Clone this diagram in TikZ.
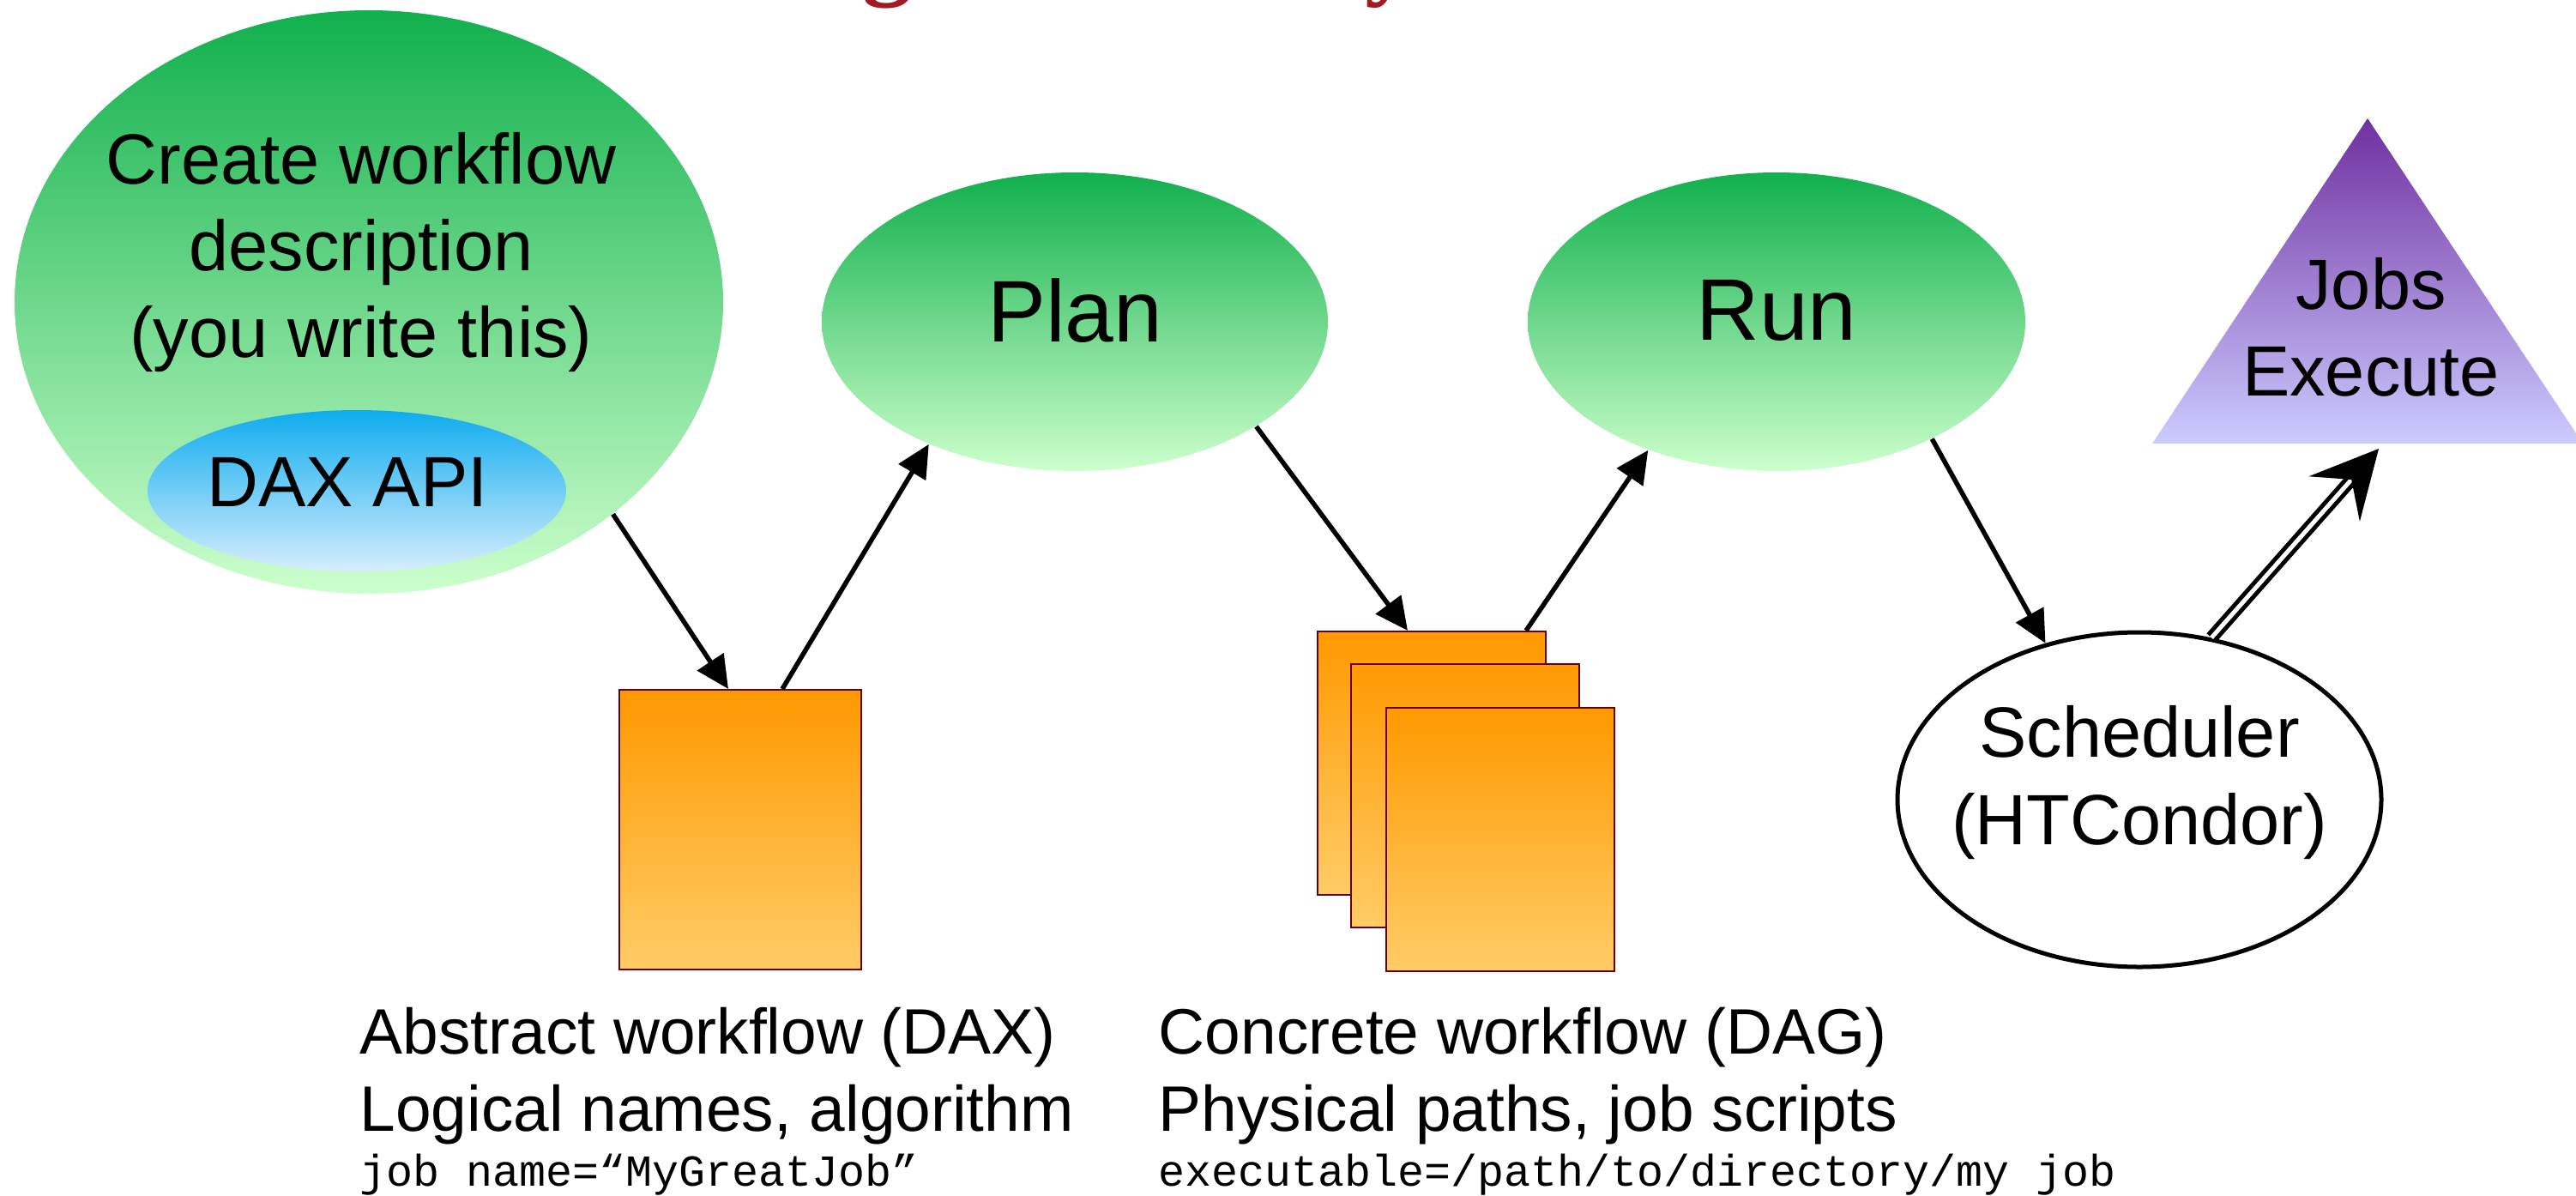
\documentclass[tikz,border=0pt]{standalone}
\usepackage{fontspec}
\setmainfont{Liberation Sans}
\setmonofont{Liberation Mono}
\newfontfamily\headfont{Liberation Serif}
\usetikzlibrary{shapes.geometric,arrows.meta}

\definecolor{leafdark}{RGB}{17,176,77}
\definecolor{leaflight}{RGB}{204,255,204}
\definecolor{skydark}{RGB}{14,172,238}
\definecolor{skylight}{RGB}{214,238,254}
\definecolor{plumdark}{RGB}{112,48,160}
\definecolor{plumlight}{RGB}{204,204,255}
\definecolor{amberdark}{RGB}{255,153,0}
\definecolor{amberlight}{RGB}{255,204,102}
\definecolor{sheetedge}{RGB}{102,0,0}
\definecolor{headred}{RGB}{160,28,34}

\newcommand{\bubblefont}{\fontsize{23.6}{28.8}\selectfont}
\newcommand{\stagefont}{\fontsize{29}{34.8}\selectfont}
\newcommand{\notefont}{\fontsize{21.3}{25.6}\selectfont}
\newcommand{\codefont}{\fontsize{14.7}{17.6}\selectfont\ttfamily}

\begin{document}
\begin{tikzpicture}[
    bubble/.style={ellipse, inner sep=0pt, top color=leafdark, bottom color=leaflight, align=center},
    sheet/.style={rectangle, draw=sheetedge, line width=0.02cm, top color=amberdark, bottom color=amberlight,
      minimum width=2.66cm, minimum height=3.07cm, inner sep=0pt},
    flow/.style={line width=0.055cm, -{Triangle[length=0.38cm, width=0.36cm]}},
    note/.style={anchor=base west, inner sep=0pt},
  ]
  \useasboundingbox (0,0) rectangle (30.03,13.93);
  \clip (0,0) rectangle (30.03,13.93);

  % heading, only its descenders fall inside the page
  \node[headred, anchor=base, inner sep=0pt, font=\headfont\bfseries\fontsize{33}{40}\selectfont] (headg) at (10.34,14.08) {g};
  \node[headred, anchor=base, inner sep=0pt, font=\headfont\bfseries\fontsize{33}{40}\selectfont] (heady) at (16.20,14.08) {y};

  % step 1: the workflow description
  \node[bubble, minimum width=8.26cm, minimum height=6.80cm] (create) at (4.30,10.41) {};
  \node[font=\bubblefont, align=center] (createtext) at (4.21,10.99) {Create workflow\\description\\(you write this)};
  \node[ellipse, inner sep=0pt, top color=skydark, bottom color=skylight,
    minimum width=4.88cm, minimum height=1.88cm] (dax) at (4.16,8.21) {};
  \node[font=\bubblefont] (daxtext) at (4.05,8.31) {DAX API};

  % plan and run
  \node[bubble, minimum width=5.90cm, minimum height=3.48cm] (plan) at (12.53,10.18) {};
  \node[font=\stagefont] (plantext) at (12.53,10.31) {Plan};
  \node[bubble, minimum width=5.80cm, minimum height=3.48cm] (run) at (20.71,10.18) {};
  \node[font=\stagefont] (runtext) at (20.71,10.31) {Run};

  % jobs execute
  \shade[top color=plumdark, bottom color=plumlight] (27.60,12.55) -- (25.09,8.76) -- (30.11,8.76) -- cycle;
  \node[font=\bubblefont, align=center] (jobs) at (27.64,10.12) {Jobs\\Execute};
  \coordinate (jobsbase) at (27.73,8.70);

  % scheduler
  \node[ellipse, draw, line width=0.05cm, fill=white, minimum width=5.64cm, minimum height=3.90cm] (sched) at (24.94,4.61) {};
  \node[font=\bubblefont, align=center] (schedtext) at (24.94,4.81) {Scheduler\\(HTCondor)};

  % abstract and concrete workflows
  \node[sheet, minimum width=2.82cm, minimum height=3.26cm] (abs) at (8.63,4.26) {};
  \node[sheet] (dag1) at (16.69,5.035) {};
  \node[sheet] (dag2) at (17.08,4.66) {};
  \node[sheet] (dag3) at (17.49,4.145) {};

  \draw[flow] (create.-41.5) -- ([xshift=-0.14cm]abs.north);
  \draw[flow] ([xshift=0.49cm]abs.north) -- (plan.-140);
  \draw[flow] (plan.-30) -- ([xshift=-0.28cm]dag1.north);
  \draw[flow] ([xshift=1.10cm]dag1.north) -- (run.-135);
  \draw[flow] (run.-37) -- (sched.121);
  \draw[double, double distance=0.05cm, line width=0.05cm,
    -{Stealth[length=0.78cm, width=0.79cm, inset=0.30cm]}] (sched.66) -- (jobsbase);

  % captions
  \node[note, font=\notefont] (abstitle) at (4.19,1.65) {Abstract workflow (DAX)};
  \node[note, font=\notefont] (absnames) at (4.19,0.75) {Logical names, algorithm};
  \node[note, font=\codefont] (abscode) at (4.19,0.11) {job name=“MyGreatJob”};
  \node[note, font=\notefont] (dagtitle) at (13.50,1.65) {Concrete workflow (DAG)};
  \node[note, font=\notefont] (dagpaths) at (13.50,0.75) {Physical paths, job scripts};
  \node[note, font=\codefont] (dagcode) at (13.50,0.11) {executable=/path/to/directory/my job};
\end{tikzpicture}
\end{document}
